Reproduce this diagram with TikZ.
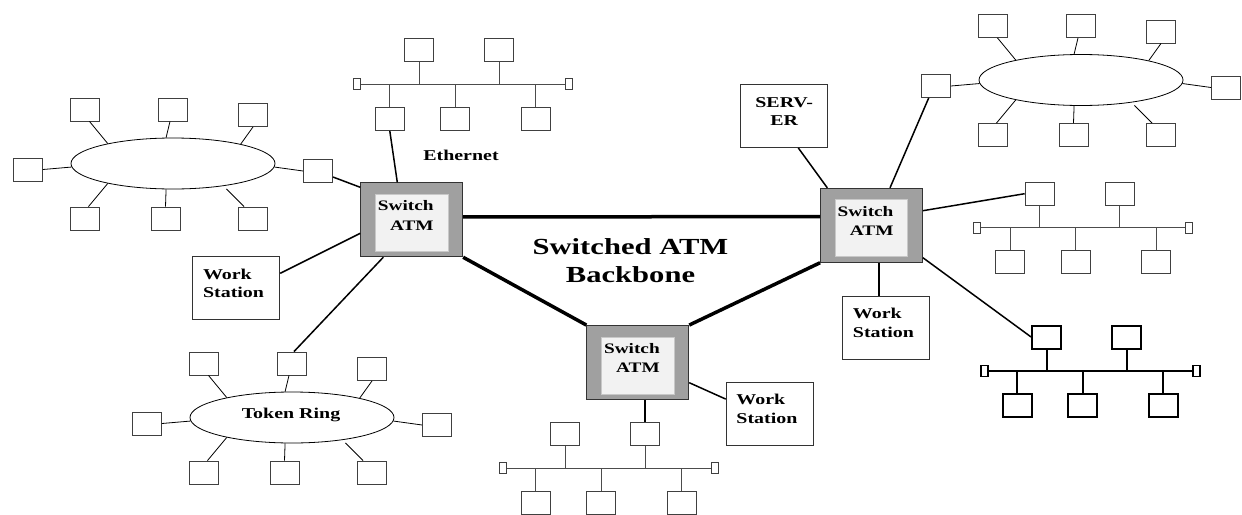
\documentclass[tikz,border=0pt]{standalone}
\usepackage{fontspec}
\setmainfont{Liberation Serif}
\usepackage{graphicx}
\usetikzlibrary{shapes.geometric}

\definecolor{swgray}{RGB}{160,160,160}
\definecolor{swcore}{RGB}{242,242,242}
\definecolor{swline}{RGB}{200,200,200}

\newcommand\wide[1]{\scalebox{1.33}[1]{#1}}
\newcommand\twoline[3]{\wide{\begin{tabular}{@{}#1@{}}#2\\#3\end{tabular}}}

% ring with eight stations
\newcommand\ringnet[3]{%
  \begin{scope}[shift={(#2,#3)}]
    \node[ring] (#1) at (0,0) {};
    \node[pc] (#1tl) at (-88,-54) {};
    \node[pc] (#1tm) at (0,-54) {};
    \node[pc] (#1tr) at (80,-48.5) {};
    \node[pc] (#1l) at (-145,6) {};
    \node[pc] (#1r) at (145,7.5) {};
    \node[pc] (#1bl) at (-88,55) {};
    \node[pc] (#1bm) at (-7.5,55) {};
    \node[pc] (#1br) at (80,55) {};
    \draw[tap] ([xshift=4.5pt]#1tl.south) -- (#1.163);
    \draw[tap] ([xshift=-3pt]#1tm.south) -- (#1.105);
    \draw[tap] (#1tr.south) -- (#1.16.5);
    \draw[tap] (#1l.east) -- (#1.182);
    \draw[tap] (#1r.west) -- (#1.358);
    \draw[tap] ([xshift=3.5pt]#1bl.north) -- (#1.197);
    \draw[tap] (#1bm.north) -- (#1.255);
    \draw[tap,shorten >=4pt] ([xshift=-9pt]#1br.north) -- (#1.336);
  \end{scope}}

% bus segment with five stations
\newcommand\busnet[3]{%
  \begin{scope}[shift={(#2,#3)}]
    \node[term] (#1a) at (-106,0) {};
    \node[term] (#1z) at (106,0) {};
    \draw[bus] (#1a) -- (#1z);
    \node[pc] (#1t1) at (-43.7,-34) {};
    \node[pc] (#1t2) at (36.3,-34) {};
    \node[pc] (#1b1) at (-73,34.7) {};
    \node[pc] (#1b2) at (-7.4,34.7) {};
    \node[pc] (#1b3) at (73,34.7) {};
    \draw[bus] (#1t1) -- (#1t1 |- #1a);
    \draw[bus] (#1t2) -- (#1t2 |- #1a);
    \draw[bus] (#1b1) -- (#1b1 |- #1a);
    \draw[bus] (#1b2) -- (#1b2 |- #1a);
    \draw[bus] (#1b3) -- (#1b3 |- #1a);
  \end{scope}}

\newcommand\switchatm[3]{%
  \node[switchbox] (#1) at (#2,#3) {};
  \node[switchcore] (#1in) at (#2,#3+3) {};
  \node[switchtxt,anchor=north east] (#1txt) at ([xshift=73.6pt,yshift=-14.4pt]#1.north west)
    {\twoline{r}{Switch}{ATM}};}

\newcommand\workstation[3]{%
  \node[wsbox] (#1) at (#2,#3) {};
  \node[lbl,anchor=north west] (#1txt) at ([xshift=10.5pt,yshift=-9.8pt]#1.north west)
    {\twoline{l}{Work}{Station}};}

\begin{document}
\begin{tikzpicture}[
    x=1pt, y=-1pt,
    pc/.style={
      draw=black!75, line width=0.9pt,
      minimum width=29pt, minimum height=23pt, inner sep=0pt
    },
    term/.style={
      draw=black!75, line width=0.9pt,
      minimum width=7pt, minimum height=11pt, inner sep=0pt
    },
    ring/.style={
      draw, ellipse, line width=0.8pt,
      minimum width=204pt, minimum height=51pt, inner sep=0pt
    },
    tap/.style={line width=0.8pt},
    bus/.style={draw=black!70, line width=0.9pt},
    switchbox/.style={
      draw=black!80, fill=swgray, line width=0.9pt,
      minimum width=102pt, minimum height=74pt, inner sep=0pt
    },
    switchcore/.style={
      draw=swline, fill=swcore, line width=0.8pt,
      minimum width=72.5pt, minimum height=57pt, inner sep=0pt
    },
    wsbox/.style={
      draw=black!80, line width=0.9pt,
      minimum width=87pt, minimum height=63pt, inner sep=0pt
    },
    lbl/.style={font=\fontsize{15}{18.4}\selectfont\bfseries, inner sep=0pt},
    switchtxt/.style={font=\fontsize{14.5}{19.5}\selectfont\bfseries, inner sep=0pt},
    titletxt/.style={font=\fontsize{23}{28.4}\selectfont\bfseries, inner sep=0pt},
    link/.style={line width=1.5pt},
    backbone/.style={line width=3.5pt}
  ]
    \fill[white] (0,0) rectangle (1242,514);
    \useasboundingbox (0,0) rectangle (1242,514);

    \ringnet{ringL}{173}{163.5}
    \ringnet{ringR}{1081}{80}
    \ringnet{token}{292}{417.5}
    \node[lbl,anchor=base] (tokentxt) at (291,418.3) {\wide{Token Ring}};

    \busnet{eth}{462.8}{84.3}
    \node[lbl,anchor=base] (ethtxt) at (461,160) {\wide{Ethernet}};
    \busnet{busR}{1083.3}{227.7}
    \busnet{busM}{608.8}{468.3}
    \begin{scope}[
        bus/.style={draw=black, line width=2pt},
        pc/.append style={draw=black, line width=2pt},
        term/.append style={draw=black, line width=1.6pt}
      ]
      \busnet{busX}{1090.3}{371}
    \end{scope}

    \switchatm{swL}{411.7}{219.8}
    \switchatm{swR}{871.5}{225.3}
    \switchatm{swM}{637.8}{362.5}

    \node[titletxt] (title) at (630.5,263) {\twoline{c}{Switched ATM}{Backbone}};

    \workstation{wsL}{236.3}{288.3}
    \workstation{wsM}{769.7}{413.7}
    \workstation{wsR}{886.2}{328}

    \node[wsbox] (srv) at (784.2,116) {};
    \node[lbl] (srvtxt) at ([yshift=3pt]srv.center) {\twoline{c}{SERV-}{ER}};

    \draw[backbone] ([yshift=3pt]swL.east) -- ([yshift=8.6pt]swR.west);
    \draw[backbone] (swL.south east) -- (swM.north west);
    \draw[backbone] (swR.south west) -- (swM.north east);

    \draw[link] (ethb1.south) -- ([xshift=-14.4pt]swL.north);
    \draw[link] ([yshift=-6pt]ringLr.east) -- ([yshift=32.5pt]swL.west);
    \draw[link] ([yshift=15pt]wsL.east) -- ([yshift=-13.5pt]swL.west);
    \draw[link] ([xshift=2pt]tokentm.north) -- ([xshift=-28.4pt]swL.south);
    \draw[link] (swM.south -| busMt2) -- (busMt2);
    \draw[link] ([yshift=-20.2pt]swM.east) -- ([yshift=14.6pt]wsM.west);
    \draw[link] ([xshift=14.1pt]srv.south) -- ([xshift=-44.2pt]swR.north);
    \draw[link] ([xshift=-7.3pt]ringRl.south) -- ([xshift=18.5pt]swR.north);
    \draw[link] ([yshift=14.6pt]swR.east) -- (busRt1.west);
    \draw[link] ([yshift=5pt]swR.south east) -- (busXt1.west);
    \draw[link] ([xshift=7.5pt]swR.south) -- ([xshift=-7.2pt]wsR.north);
  \end{tikzpicture}
\end{document}
